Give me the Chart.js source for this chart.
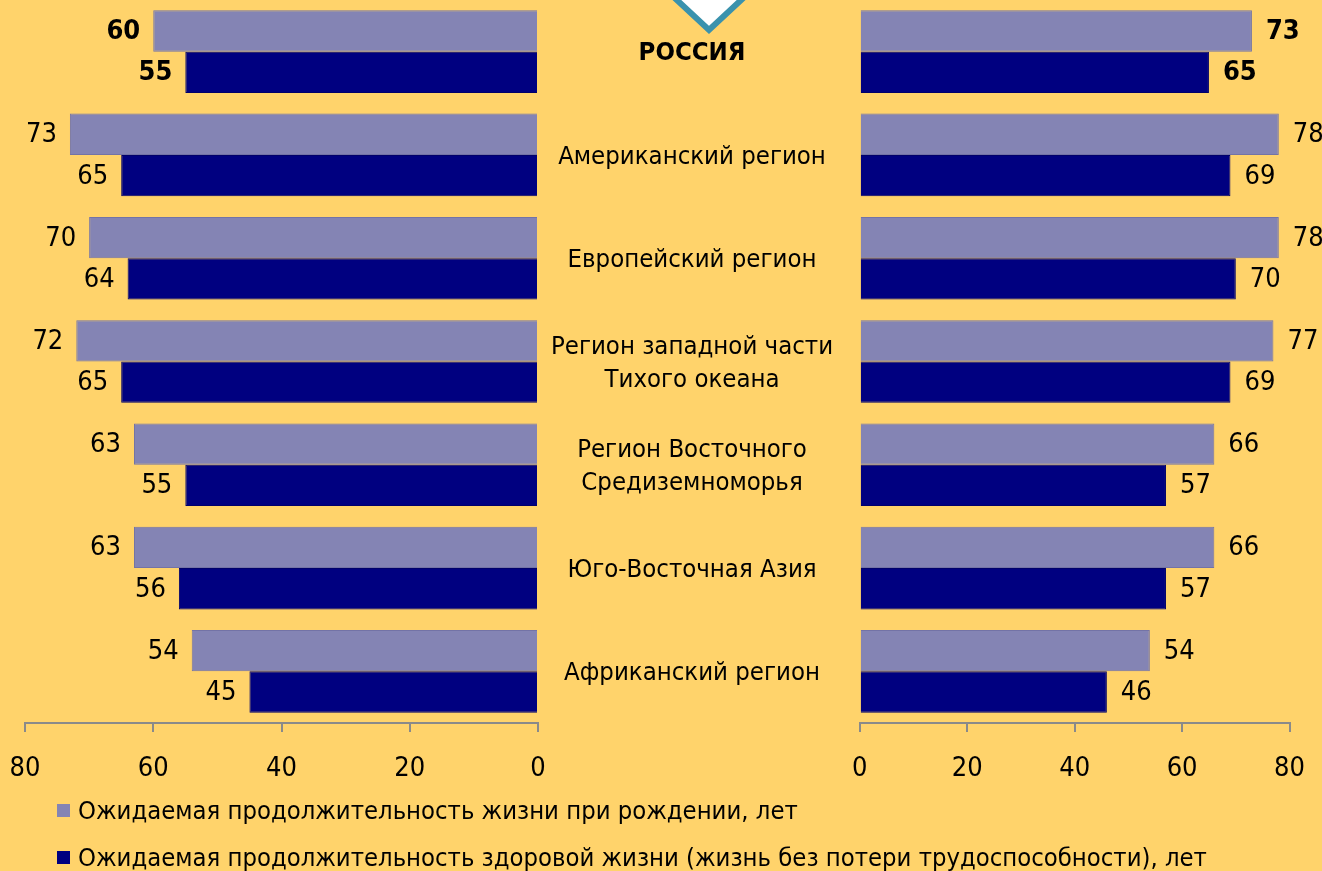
<!DOCTYPE html>
<html lang="ru">
<head>
<meta charset="utf-8">
<script src="https://cdn.jsdelivr.net/npm/chart.js@4.4.1/dist/chart.umd.min.js"></script>
<style>
  html, body { margin: 0; padding: 0; background: #FFD36B; }
  #wrap { position: relative; width: 1322px; height: 871px; overflow: hidden; background: #FFD36B; }
  #leftBox { position: absolute; left: 0; top: 0; width: 1322px; height: 800px; }
  #rightBox { position: absolute; left: 831px; top: 0; width: 495px; height: 800px; }
  #legend { position: absolute; left: 57px; top: 792px; font-family: "DejaVu Sans Condensed", "DejaVu Sans", sans-serif; font-size: 25.4px; color: #000; }
  #legend div { height: 47px; line-height: 36px; white-space: nowrap; }
  #legend span.box { display: inline-block; width: 13px; height: 13px; margin-right: 8px; vertical-align: 2px; }
</style>
</head>
<body>
<div id="wrap">
  <div id="leftBox"><canvas id="leftChart"></canvas></div>
  <div id="rightBox"><canvas id="rightChart"></canvas></div>
  <div id="legend"></div>
</div>
<script>
const regions = ['РОССИЯ', 'Американский регион', 'Европейский регион',
    ['Регион западной части', 'Тихого океана'], ['Регион Восточного', 'Средиземноморья'],
    'Юго-Восточная Азия', 'Африканский регион'];
const seriesNames = ['Ожидаемая продолжительность жизни при рождении, лет',
    'Ожидаемая продолжительность здоровой жизни (жизнь без потери трудоспособности), лет'];
const leftBirth = [60, 73, 70, 72, 63, 63, 54];
const leftHealthy = [55, 65, 64, 65, 55, 56, 45];
const rightBirth = [73, 78, 78, 77, 66, 66, 54];
const rightHealthy = [65, 69, 70, 69, 57, 57, 46];
const xTicks = [0, 20, 40, 60, 80];

const FONT = '"DejaVu Sans Condensed", "DejaVu Sans", sans-serif';
const lightColor = '#8484B4';
const darkColor = '#000080';

// value labels next to the bar ends
const valueLabels = {
    id: 'valueLabels',
    afterDatasetsDraw(chart, args, opts) {
        const ctx = chart.ctx;
        ctx.save();
        ctx.fillStyle = '#000';
        ctx.textBaseline = 'middle';
        chart.data.datasets.forEach((ds, di) => {
            chart.getDatasetMeta(di).data.forEach((bar, i) => {
                ctx.font = (i === 0 ? 'bold ' : '') + '27px ' + FONT;
                if (opts.side === 'left') {
                    ctx.textAlign = 'right';
                    ctx.fillText(ds.data[i], bar.x - 13, bar.y + 1);
                } else {
                    ctx.textAlign = 'left';
                    ctx.fillText(ds.data[i], bar.x + 14, bar.y + 1);
                }
            });
        });
        ctx.restore();
    }
};

// region names in the middle + the marker at the top
const middleLabels = {
    id: 'middleLabels',
    afterDraw(chart) {
        const ctx = chart.ctx;
        const y = chart.scales.y;
        ctx.save();
        ctx.fillStyle = '#000';
        ctx.textAlign = 'center';
        ctx.textBaseline = 'middle';
        regions.forEach((name, i) => {
            const cy = y.getPixelForValue(i);
            const lines = Array.isArray(name) ? name : [name];
            ctx.font = (i === 0 ? 'bold ' : '') + '25.5px ' + FONT;
            lines.forEach((ln, k) => {
                ctx.fillText(ln, 692, cy + 2 + (k - (lines.length - 1) / 2) * 33);
            });
        });
        // triangle marker
        ctx.beginPath();
        ctx.moveTo(664, -12);
        ctx.lineTo(709, 30);
        ctx.lineTo(754, -12);
        ctx.closePath();
        ctx.fillStyle = '#fff';
        ctx.fill();
        ctx.lineWidth = 6;
        ctx.strokeStyle = '#3A92AD';
        ctx.stroke();
        ctx.restore();
    }
};

function makeOptions(reverse, padding, side) {
    return {
        indexAxis: 'y',
        responsive: true,
        maintainAspectRatio: false,
        animation: false,
        layout: { padding: padding },
        plugins: {
            legend: { display: false },
            tooltip: { enabled: false },
            valueLabels: { side: side }
        },
        scales: {
            y: { display: false },
            x: {
                reverse: reverse,
                min: 0,
                max: 80,
                afterBuildTicks(scale) { scale.ticks = xTicks.map(v => ({ value: v })); },
                afterFit(scale) { scale.height = 77; },
                grid: { drawOnChartArea: false, drawTicks: true, tickLength: 9, color: '#8A8A8A', lineWidth: 2 },
                border: { display: true, color: '#8A8A8A', width: 2 },
                ticks: { color: '#000', font: { family: FONT, size: 27 }, padding: 21, maxRotation: 0 }
            }
        }
    };
}

function makeData(birth, healthy) {
    return {
        labels: regions,
        datasets: [{
            label: seriesNames[0],
            data: birth,
            backgroundColor: lightColor,
            borderColor: '#7373A6',
            borderWidth: 1,
            categoryPercentage: 0.8,
            barPercentage: 1.0
        }, {
            label: seriesNames[1],
            data: healthy,
            backgroundColor: darkColor,
            borderColor: '#00006A',
            borderWidth: 1,
            categoryPercentage: 0.8,
            barPercentage: 1.0
        }]
    };
}

const leftChart = new Chart(document.getElementById('leftChart'), {
    type: 'bar',
    data: makeData(leftBirth, leftHealthy),
    options: makeOptions(true, { left: 25, right: 784, top: 0, bottom: 0 }, 'left'),
    plugins: [valueLabels, middleLabels]
});

const rightChart = new Chart(document.getElementById('rightChart'), {
    type: 'bar',
    data: makeData(rightBirth, rightHealthy),
    options: makeOptions(false, { left: 16, right: 32, top: 0, bottom: 0 }, 'right'),
    plugins: [valueLabels]
});

// legend built from the dataset names
const legendEl = document.getElementById('legend');
[lightColor, darkColor].forEach((c, i) => {
    const row = document.createElement('div');
    row.innerHTML = '<span class="box" style="background:' + c + '"></span>' + seriesNames[i];
    legendEl.appendChild(row);
});
</script>
</body>
</html>
